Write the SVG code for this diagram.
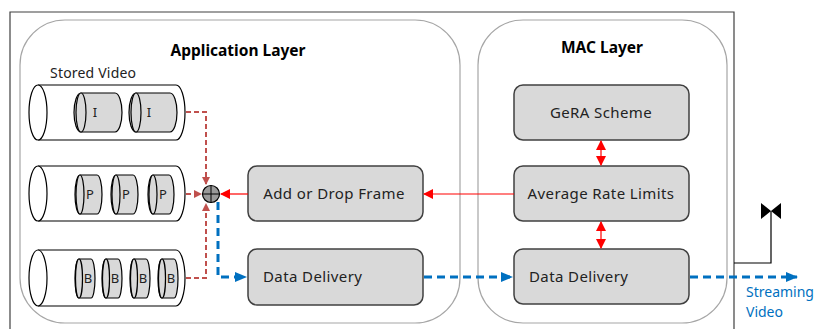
<svg xmlns="http://www.w3.org/2000/svg" width="821" height="329" viewBox="0 0 821 329">
<defs>
<style>
.t{font-family:"Noto Sans","Open Sans",sans-serif;font-size:15px;letter-spacing:0.4px;fill:#222}
.title{font-family:"Noto Sans","Open Sans",sans-serif;font-size:15.5px;font-weight:bold;fill:#000}
.box{fill:#d9d9d9;stroke:#404040;stroke-width:1.5}
.layer{fill:#fff;stroke:#a6a6a6;stroke-width:1.2}
.cyl{fill:#fff;stroke:#000;stroke-width:1.2}
.icyl{fill:#d9d9d9;stroke:#000;stroke-width:1.2}
.ft{font-family:"Noto Sans","Open Sans",sans-serif;font-size:13px;fill:#222}
.st{font-family:"Noto Sans","Open Sans",sans-serif;font-size:14px;fill:#0070c0}
.rd{fill:none;stroke:#c0504d;stroke-width:2;stroke-dasharray:5 3}
.rs{fill:none;stroke:#ff0000;stroke-width:1.2}
.bd{fill:none;stroke:#0070c0;stroke-width:3;stroke-dasharray:8 5}
</style>
<marker id="ard" markerWidth="8" markerHeight="8" refX="7" refY="4" orient="auto" markerUnits="userSpaceOnUse"><path d="M0,0 L8,4 L0,8 z" fill="#c0504d"/></marker>
<marker id="ars" markerWidth="10" markerHeight="10" refX="9" refY="5" orient="auto" markerUnits="userSpaceOnUse"><path d="M0,0 L10,5 L0,10 z" fill="#ff0000"/></marker>
<marker id="arsb" markerWidth="10" markerHeight="10" refX="1" refY="5" orient="auto" markerUnits="userSpaceOnUse"><path d="M10,0 L0,5 L10,10 z" fill="#ff0000"/></marker>
<marker id="abl" markerWidth="12" markerHeight="10" refX="11" refY="5" orient="auto" markerUnits="userSpaceOnUse"><path d="M0,0 L12,5 L0,10 z" fill="#0070c0"/></marker>
</defs>
<rect width="821" height="329" fill="#fff"/>
<path d="M10,340 V12 H734 V340" fill="none" stroke="#404040" stroke-width="1.2"/>

<g id="app-layer">
<rect class="layer" x="20" y="20" width="440" height="303" rx="45" ry="45"/>
<text class="title" x="238" y="56" text-anchor="middle">Application Layer</text>
</g>
<g id="mac-layer">
<rect class="layer" x="478" y="20" width="249" height="303" rx="45" ry="45"/>
<text class="title" x="602" y="53" text-anchor="middle">MAC Layer</text>
</g>

<g id="stored-video">
<text class="t" x="50" y="78" style="font-size:14px;letter-spacing:0.2px">Stored Video</text>
</g>

<g id="queue-i">
<path class="cyl" d="M38,85 H176 A9,27.5 0 0 1 176,140 H38"/>
<ellipse class="cyl" cx="38" cy="112.5" rx="9" ry="27.5"/>
<path class="icyl" d="M81,93 H115 A7,19.5 0 0 1 115,132 H81 A7,19.5 0 0 1 81,93 z"/>
<ellipse class="icyl" cx="81" cy="112.5" rx="5" ry="19.5" fill="#ececec"/>
<text class="ft" x="95" y="117" text-anchor="middle">I</text>
<path class="icyl" d="M136,93 H170 A7,19.5 0 0 1 170,132 H136 A7,19.5 0 0 1 136,93 z"/>
<ellipse class="icyl" cx="136" cy="112.5" rx="5" ry="19.5" fill="#ececec"/>
<text class="ft" x="149" y="117" text-anchor="middle">I</text>
</g>

<g id="queue-p">
<path class="cyl" d="M38,166 H176 A9,27.5 0 0 1 176,221 H38"/>
<ellipse class="cyl" cx="38" cy="193.5" rx="9" ry="27.5"/>
<path class="icyl" d="M80,175 H97 A5,19.5 0 0 1 97,214 H80 A5,19.5 0 0 1 80,175 z"/>
<ellipse class="icyl" cx="80" cy="194.5" rx="4" ry="19.5"/>
<text class="ft" x="90" y="199" text-anchor="middle">P</text>
<path class="icyl" d="M116,175 H133 A5,19.5 0 0 1 133,214 H116 A5,19.5 0 0 1 116,175 z"/>
<ellipse class="icyl" cx="116" cy="194.5" rx="4" ry="19.5"/>
<text class="ft" x="126" y="199" text-anchor="middle">P</text>
<path class="icyl" d="M153,175 H169 A5,19.5 0 0 1 169,214 H153 A5,19.5 0 0 1 153,175 z"/>
<ellipse class="icyl" cx="153" cy="194.5" rx="4" ry="19.5"/>
<text class="ft" x="163" y="199" text-anchor="middle">P</text>
</g>

<g id="queue-b">
<path class="cyl" d="M38,250 H176 A9,28 0 0 1 176,306 H38"/>
<ellipse class="cyl" cx="38" cy="278" rx="9" ry="28"/>
<path class="icyl" d="M79,259 H91 A4,19.5 0 0 1 91,298 H79 A4,19.5 0 0 1 79,259 z"/>
<ellipse class="icyl" cx="79" cy="278.5" rx="3.5" ry="19.5"/>
<text class="ft" x="88" y="283" text-anchor="middle">B</text>
<path class="icyl" d="M106,259 H118 A4,19.5 0 0 1 118,298 H106 A4,19.5 0 0 1 106,259 z"/>
<ellipse class="icyl" cx="106" cy="278.5" rx="3.5" ry="19.5"/>
<text class="ft" x="115" y="283" text-anchor="middle">B</text>
<path class="icyl" d="M134,259 H146 A4,19.5 0 0 1 146,298 H134 A4,19.5 0 0 1 134,259 z"/>
<ellipse class="icyl" cx="134" cy="278.5" rx="3.5" ry="19.5"/>
<text class="ft" x="143" y="283" text-anchor="middle">B</text>
<path class="icyl" d="M162,259 H174 A4,19.5 0 0 1 174,298 H162 A4,19.5 0 0 1 162,259 z"/>
<ellipse class="icyl" cx="162" cy="278.5" rx="3.5" ry="19.5"/>
<text class="ft" x="171" y="283" text-anchor="middle">B</text>
</g>

<g id="sum">
<circle cx="211" cy="194" r="8.5" fill="#9a9a9a" stroke="#000" stroke-width="1.2"/>
<path d="M202.5,194 H219.5 M211,185.5 V202.5" stroke="#000" stroke-width="1"/>
</g>

<g id="add-drop">
<rect class="box" x="248" y="166" width="175" height="55" rx="9"/>
<text class="t" x="334" y="199" text-anchor="middle">Add or Drop Frame</text>
</g>
<g id="app-delivery">
<rect class="box" x="248" y="249" width="175" height="56" rx="9"/>
<text class="t" x="263" y="282">Data Delivery</text>
</g>
<g id="gera">
<rect class="box" x="514" y="85" width="175" height="55" rx="9"/>
<text class="t" x="601" y="118" text-anchor="middle">GeRA Scheme</text>
</g>
<g id="arl">
<rect class="box" x="514" y="166" width="175" height="55" rx="9"/>
<text class="t" x="601" y="199" text-anchor="middle">Average Rate Limits</text>
</g>
<g id="mac-delivery">
<rect class="box" x="514" y="249" width="175" height="55" rx="9"/>
<text class="t" x="529" y="282">Data Delivery</text>
</g>

<g id="antenna">
<path d="M734,263 H771 V211" fill="none" stroke="#000" stroke-width="1.2"/>
<path d="M761,203 L771,211 L761,219 z M781,203 L771,211 L781,219 z" fill="#000"/>
</g>

<g id="stream-label">
<text class="st" x="746" y="297">Streaming</text>
<text class="st" x="746" y="317">Video</text>
</g>

<g id="connectors">
<path class="rd" d="M186,112 H206 V184" marker-end="url(#ard)"/>
<path class="rd" d="M186,194 H201" marker-end="url(#ard)"/>
<path class="rd" d="M186,278 H206 V204" marker-end="url(#ard)"/>
<path class="rs" d="M514,194 H424" marker-end="url(#ars)"/>
<path class="rs" d="M248,194 H221" marker-end="url(#ars)"/>
<path class="rs" d="M601,141 V165" marker-start="url(#arsb)" marker-end="url(#ars)"/>
<path class="rs" d="M601,222 V248" marker-start="url(#arsb)" marker-end="url(#ars)"/>
<path class="bd" d="M218,202 V277 H246" marker-end="url(#abl)"/>
<path class="bd" d="M424,277 H512" marker-end="url(#abl)"/>
<path class="bd" d="M690,277 H797" marker-end="url(#abl)"/>
</g>
</svg>
